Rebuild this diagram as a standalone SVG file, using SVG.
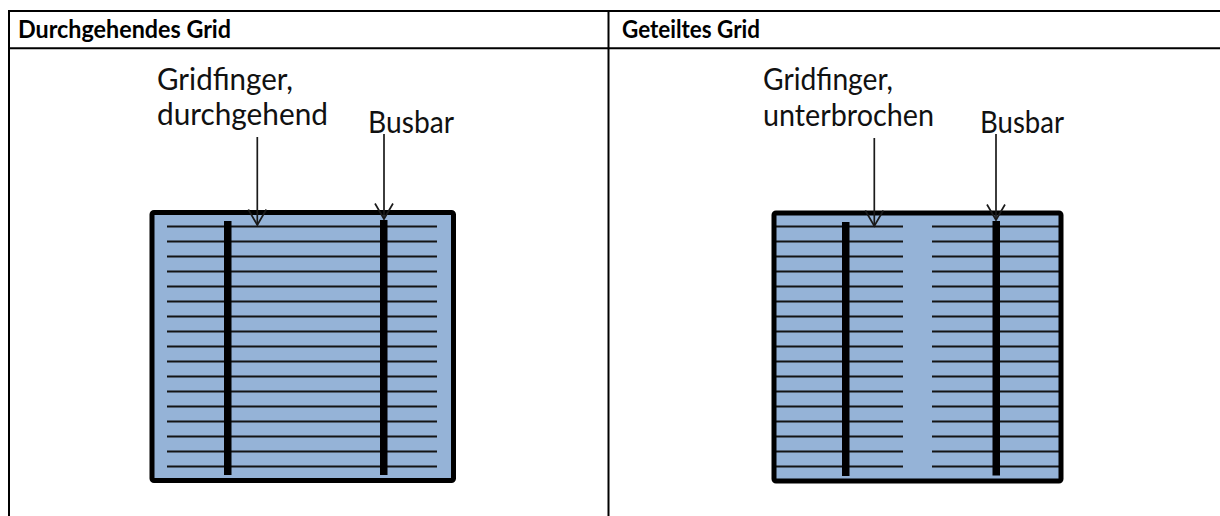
<svg xmlns="http://www.w3.org/2000/svg" width="1220" height="516" viewBox="0 0 1220 516">
  <style>
    .rule { stroke: #000; stroke-width: 2; fill: none; }
    .head { font-family: Lato, "Open Sans", "Liberation Sans", sans-serif; font-weight: 700; font-size: 25px; fill: #000; }
    .label { font-family: Lato, "Open Sans", "Liberation Sans", sans-serif; font-size: 30px; fill: #111; }
    .cell { fill: #95B3D7; }
    .frame { fill: none; stroke: #000; stroke-width: 5; }
    .finger { fill: none; stroke: #141414; stroke-width: 2.2; }
    .busbar { fill: #000; }
    .arrow { fill: none; stroke: #1a1a1a; stroke-width: 1.7; marker-end: url(#open-head); }
  </style>
  <defs>
    <marker id="open-head" markerUnits="userSpaceOnUse" viewBox="-18 -11 20 22" markerWidth="20" markerHeight="22" refX="0" refY="0" orient="auto">
      <path d="M-15.5,-9 L0,0 L-15.5,9" fill="none" stroke="#1a1a1a" stroke-width="1.7"/>
    </marker>
  </defs>

  <rect width="1220" height="516" fill="#fff"/>

  <!-- table rules and column headings -->
  <g id="table">
    <path class="rule" d="M8 11H1220 M8 48.3H1220 M9 10V516 M608.5 10V516"/>
    <text class="head" x="18" y="38" textLength="213" lengthAdjust="spacingAndGlyphs">Durchgehendes Grid</text>
    <text class="head" x="622" y="38" textLength="138" lengthAdjust="spacingAndGlyphs">Geteiltes Grid</text>
  </g>

  <!-- continuous grid cell -->
  <g id="cell-durchgehend">
    <rect class="cell" x="152" y="212.5" width="301.5" height="268" rx="2"/>
    <path class="finger" d="M167 226.5H437 M167 241.5H437 M167 256.5H437 M167 271.5H437 M167 286.5H437 M167 301.5H437 M167 316.5H437 M167 331.5H437 M167 346.5H437 M167 361.5H437 M167 376.5H437 M167 391.5H437 M167 406.5H437 M167 421.5H437 M167 436.5H437 M167 451.5H437 M167 466.5H437"/>
    <rect class="busbar" x="224" y="221" width="7.5" height="254"/>
    <rect class="busbar" x="380" y="220" width="7.5" height="255"/>
    <rect class="frame" x="152" y="212.5" width="301.5" height="268" rx="2"/>
  </g>

  <g id="label-gridfinger-durchgehend">
    <text class="label" x="157" y="90" textLength="136" lengthAdjust="spacingAndGlyphs">Gridfinger,</text>
    <text class="label" x="157" y="125" textLength="171" lengthAdjust="spacingAndGlyphs">durchgehend</text>
  </g>
  <g id="label-busbar-left">
    <text class="label" x="368" y="133" textLength="86" lengthAdjust="spacingAndGlyphs">Busbar</text>
  </g>

  <!-- split grid cell: fingers broken in the middle -->
  <g id="cell-geteilt">
    <rect class="cell" x="774" y="213" width="287" height="268" rx="2"/>
    <path class="finger" d="M776 226.5H903 M932 226.5H1059 M776 241.5H903 M932 241.5H1059 M776 256.5H903 M932 256.5H1059 M776 271.5H903 M932 271.5H1059 M776 286.5H903 M932 286.5H1059 M776 301.5H903 M932 301.5H1059 M776 316.5H903 M932 316.5H1059 M776 331.5H903 M932 331.5H1059 M776 346.5H903 M932 346.5H1059 M776 361.5H903 M932 361.5H1059 M776 376.5H903 M932 376.5H1059 M776 391.5H903 M932 391.5H1059 M776 406.5H903 M932 406.5H1059 M776 421.5H903 M932 421.5H1059 M776 436.5H903 M932 436.5H1059 M776 451.5H903 M932 451.5H1059 M776 466.5H903 M932 466.5H1059"/>
    <rect class="busbar" x="842" y="222" width="7.5" height="254"/>
    <rect class="busbar" x="992.5" y="221" width="7.5" height="254.5"/>
    <rect class="frame" x="774" y="213" width="287" height="268" rx="2"/>
  </g>

  <g id="label-gridfinger-unterbrochen">
    <text class="label" x="763" y="90" textLength="130" lengthAdjust="spacingAndGlyphs">Gridfinger,</text>
    <text class="label" x="763" y="126" textLength="171" lengthAdjust="spacingAndGlyphs">unterbrochen</text>
  </g>
  <g id="label-busbar-right">
    <text class="label" x="980" y="133" textLength="84" lengthAdjust="spacingAndGlyphs">Busbar</text>
  </g>

  <!-- pointer arrows -->
  <g id="connectors">
    <line class="arrow" x1="257.3" y1="137" x2="257.3" y2="225"/>
    <line class="arrow" x1="384" y1="134" x2="384" y2="219"/>
    <line class="arrow" x1="874.3" y1="138" x2="874.3" y2="226"/>
    <line class="arrow" x1="996" y1="134" x2="996" y2="220"/>
  </g>
</svg>
